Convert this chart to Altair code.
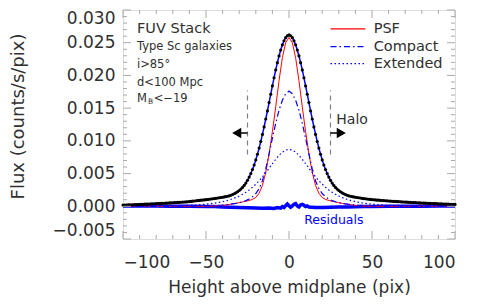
import altair as alt
import pandas as pd

SCALE = 1e-4  # values below are in units of 1e-4 counts/s/pix

# ---- stacked data profile (black dots), one value per pixel ----
x_total = list(range(-100, 101))
flux_total_left = [  # x = -100 .. -1
    1.8, 1.9, 2.0, 2.1, 2.2, 2.3, 2.4, 2.5, 2.6, 2.7,
    2.8, 3.0, 3.1, 3.2, 3.3, 3.4, 3.5, 3.7, 3.8, 3.9,
    4.0, 4.2, 4.3, 4.4, 4.6, 4.7, 4.8, 5.0, 5.1, 5.3,
    5.4, 5.6, 5.7, 5.9, 6.0, 6.2, 6.4, 6.5, 6.7, 6.9,
    7.2, 7.5, 7.8, 8.1, 8.4, 8.7, 9.0, 9.3, 9.5, 9.8, 10.1, 10.4, 10.7, 11.1, 11.5,
    11.8, 12.2, 12.6, 13.0, 13.4, 13.8, 14.3, 14.8, 15.4, 16.0,
    16.9, 18.0, 19.2, 20.6, 22.2, 24.1,
    26.3, 28.9, 31.9, 35.5, 39.7,
    44.6, 50.0, 56.2, 63.1, 70.9,
    79.5, 88.9, 99.0, 109.8, 121.3,
    133.4, 145.8, 158.5, 171.3, 184.0,
    196.4, 208.4, 219.5, 229.8, 238.9,
    246.7, 253.0, 257.7, 260.7,
]
flux_total_right = [  # x = 0 .. 100
    262.0, 260.7, 257.7, 253.0, 246.7, 238.9, 229.8, 219.5, 208.4, 196.4,
    184.0, 171.3, 158.5, 145.8, 133.4, 121.3, 109.8, 99.0, 88.9, 79.5,
    70.9, 63.1, 56.2, 50.0, 44.6, 39.7, 35.5, 31.9, 28.9, 26.3,
    24.1, 22.2, 20.6, 19.2, 18.0, 16.9,
    16.0, 15.4, 14.8, 14.3, 13.8, 13.4, 13.0, 12.6, 12.2, 11.8,
    11.5, 11.1, 10.8, 10.5, 10.2, 10.0, 9.7, 9.5, 9.3, 9.1,
    8.9, 8.7, 8.5, 8.3, 8.1, 7.9, 7.7, 7.5, 7.4, 7.2,
    7.0, 6.9, 6.7, 6.6, 6.4, 6.3, 6.1, 6.0, 5.8, 5.7,
    5.6, 5.4, 5.3, 5.2, 5.0, 4.9, 4.8, 4.7, 4.5, 4.4,
    4.3, 4.2, 4.1, 4.0, 3.8, 3.7, 3.6, 3.5, 3.4, 3.3,
    3.2, 3.1, 3.0, 2.9, 2.8,
]
flux_total = flux_total_left + flux_total_right
assert len(flux_total) == len(x_total)

# ---- model components ----
x_model = [-100, -95, -90, -85, -80, -75, -70, -65, -60, -55,
           -50, -48, -46, -44, -42, -40, -38, -36, -34, -32, -30, -28, -26,
           -24, -22, -20, -18, -16, -14, -12, -10, -8, -6, -4, -2,
           0,
           2, 4, 6, 8, 10, 12, 14, 16, 18, 20, 22, 24, 26, 28, 30, 32, 34,
           36, 38, 40, 42, 44, 46, 48, 50,
           55, 60, 65, 70, 75, 80, 85, 90, 95, 100]
psf = [0, 0, 0, 0, 0, 0, 0, 0, 0, 0,
       0.0, 0.2, 0.4, 0.7, 1.1, 1.5, 2.1, 2.8, 3.6, 4.5, 5.5, 6.6, 7.7,
       8.9, 10.5, 13.5, 20, 32, 52, 80, 114, 152, 192, 227, 250,
       258,
       250, 227, 192, 152, 114, 80, 52, 32, 20, 13.5, 10.5, 8.9, 7.7, 6.6, 5.5, 4.5, 3.6,
       2.8, 2.1, 1.5, 1.1, 0.7, 0.4, 0.2, 0.0,
       0, 0, 0, 0, 0, 0, 0, 0, 0, 0]
compact = [0, 0, 0, 0, 0, 0, 0.0, 0.1, 0.2, 0.4,
           0.7, 0.9, 1.1, 1.3, 1.6, 2.0, 2.4, 3.0, 3.7, 4.5, 5.6, 6.9, 8.7,
           11.1, 14.5, 19.5, 27, 39, 57, 80, 104, 127, 147, 162, 172,
           176,
           172, 162, 147, 127, 104, 80, 57, 39, 27, 19.5, 14.5, 11.1, 8.7, 6.9, 5.6, 4.5, 3.7,
           3.0, 2.4, 2.0, 1.6, 1.3, 1.1, 0.9, 0.7,
           0.4, 0.2, 0.1, 0, 0, 0, 0, 0, 0, 0]
extended = [0.1, 0.1, 0.2, 0.2, 0.3, 0.4, 0.6, 1.0, 1.4, 2.1,
            3.2, 3.7, 4.4, 5.2, 6.0, 7.1, 8.3, 9.7, 11.4, 13.4, 15.7, 18.4, 21.4,
            25.0, 29.1, 33.8, 39.0, 44.9, 51.3, 58.1, 65.1, 71.8, 77.9, 82.7, 85.9,
            87.0,
            85.9, 82.7, 77.9, 71.8, 65.1, 58.1, 51.3, 44.9, 39.0, 33.8, 29.1, 25.0, 21.4,
            18.4, 15.7, 13.4, 11.4, 9.7, 8.3, 7.1, 6.0, 5.2, 4.4, 3.7, 3.2,
            2.1, 1.4, 1.0, 0.6, 0.4, 0.3, 0.2, 0.2, 0.1, 0.1]
assert len(psf) == len(compact) == len(extended) == len(x_model)

# ---- residuals ----
x_resid = [-100, -90, -80, -70, -60, -50, -45, -40, -35, -30, -25, -20, -16, -12,
           -9, -7, -5, -4, -3, -2, -1, 0, 1, 2, 3, 4, 5, 6, 7, 8, 9, 10, 11, 12,
           14, 16, 20, 25, 30, 35, 40, 45, 50, 60, 70, 80, 90, 100]
resid = [0.5, 0.5, 0.3, 0.2, 0.0, -0.3, -0.5, -1.0, -1.5, -2.0, -2.3, -2.8, -3.0, -2.5,
         -3.2, -1.8, -2.8, -0.5, -2.0, 1.0, 3.5, 1.0, -1.5, 0.5, 3.0, 4.0, 0.5, -1.0, 2.0, 3.0,
         1.5, -0.5, 0.5, -1.0,
         -1.5, -2.0, -1.8, -1.5, -1.2, -1.0, -0.8, -0.5, -0.3, 0.0, 0.0, 0.2, 0.3, 0.3]
assert len(resid) == len(x_resid)

# ---- axis ticks ----
x_major = [-100, -50, 0, 50, 100]
x_minor = [-90, -80, -70, -60, -40, -30, -20, -10, 10, 20, 30, 40, 60, 70, 80, 90]
y_major = [-0.005, 0.000, 0.005, 0.010, 0.015, 0.020, 0.025, 0.030]
y_minor = [-0.004, -0.003, -0.002, -0.001, 0.001, 0.002, 0.003, 0.004,
           0.006, 0.007, 0.008, 0.009, 0.011, 0.012, 0.013, 0.014,
           0.016, 0.017, 0.018, 0.019, 0.021, 0.022, 0.023, 0.024,
           0.026, 0.027, 0.028, 0.029]

df_total = pd.DataFrame({"x": x_total, "y": [v * SCALE for v in flux_total]})
df_model = pd.DataFrame({
    "x": x_model,
    "psf": [v * SCALE for v in psf],
    "compact": [v * SCALE for v in compact],
    "extended": [v * SCALE for v in extended],
})
df_resid = pd.DataFrame({"x": x_resid, "y": [v * SCALE for v in resid]})

FONT = "DejaVu Sans"
TXT = "#303030"
GRAY = "#aaaaaa"
BLUE = "#0000ff"

xs = alt.Scale(domain=[-100, 100], nice=False, zero=False)
ys = alt.Scale(domain=[-0.005, 0.030], nice=False, zero=False)

x_axis = alt.Axis(values=x_major, title="Height above midplane (pix)", ticks=False,
                  domain=False, grid=False, labelFont=FONT, labelFontSize=17,
                  labelColor=TXT, labelPadding=15, titleFont=FONT, titleFontSize=17,
                  titleFontWeight="normal", titleColor=TXT, titleY=48,
                  titleBaseline="middle")
y_axis = alt.Axis(values=y_major, format=".3f", title="Flux (counts/s/pix)", ticks=False,
                  domain=False, grid=False, labelFont=FONT, labelFontSize=17,
                  labelColor=TXT, labelPadding=8, labelFlush=True, titleFont=FONT,
                  titleFontSize=18, titleFontWeight="normal", titleColor=TXT,
                  titleX=-105, titleY=106, titleAlign="center", titleBaseline="middle",
                  titleAngle=270)


def X(f):
    return alt.X(f, type="quantitative", scale=xs, axis=x_axis)


def Y(f):
    return alt.Y(f, type="quantitative", scale=ys, axis=y_axis)


def XD(v):
    return alt.XDatum(v, type="quantitative", scale=xs, axis=x_axis)


def YD(v):
    return alt.YDatum(v, type="quantitative", scale=ys, axis=y_axis)


base_m = alt.Chart(df_model)

resid_line = alt.Chart(df_resid).mark_line(color=BLUE, strokeWidth=3.5).encode(
    x=X("x"), y=Y("y"))
psf_line = base_m.mark_line(color="#ff0000", strokeWidth=1).encode(x=X("x"), y=Y("psf"))
comp_line = base_m.mark_line(color=BLUE, strokeWidth=1.2, strokeDash=[6, 3, 1.5, 3]).encode(
    x=X("x"), y=Y("compact"))
ext_line = base_m.mark_line(color=BLUE, strokeWidth=1.2, strokeDash=[1.5, 2.5]).encode(
    x=X("x"), y=Y("extended"))
tot_line = alt.Chart(df_total).mark_line(color=BLUE, strokeWidth=1.5).encode(
    x=X("x"), y=Y("y"))
dots = alt.Chart(df_total).mark_circle(color="black", size=10, opacity=1).encode(
    x=X("x"), y=Y("y"))


# ---- inward ticks on all four sides ----
def xticks(vals, yval, size, off):
    return alt.Chart(pd.DataFrame({"t": vals})).mark_tick(
        orient="vertical", size=size, thickness=1, color=GRAY, yOffset=off, opacity=1
    ).encode(x=X("t"), y=YD(yval))


def yticks(vals, xval, size, off):
    return alt.Chart(pd.DataFrame({"t": vals})).mark_tick(
        orient="horizontal", size=size, thickness=1, color=GRAY, xOffset=off, opacity=1
    ).encode(y=Y("t"), x=XD(xval))


ticks = [
    xticks(x_major, -0.005, 8, -4), xticks(x_minor, -0.005, 4, -2),
    xticks(x_major, 0.030, 8, 4), xticks(x_minor, 0.030, 4, 2),
    yticks(y_major, -100, 8, 4), yticks(y_minor, -100, 4, 2),
    yticks(y_major, 100, 8, -4), yticks(y_minor, 100, 4, -2),
]


def text(t, x, y, size, color=TXT, align="left", dy=0):
    return alt.Chart().mark_text(text=t, font=FONT, fontSize=size, color=color,
                                 align=align, baseline="middle", dy=dy).encode(
        x=XD(x), y=YD(y))


def hrule(x1, x2, y, color, width, dash=None):
    kw = dict(color=color, strokeWidth=width)
    if dash:
        kw["strokeDash"] = dash
    return alt.Chart().mark_rule(**kw).encode(x=XD(x1), x2=alt.X2Datum(x2), y=YD(y))


def vrule(x, y1, y2):
    return alt.Chart().mark_rule(color="#808080", strokeWidth=1.2, strokeDash=[5, 4]).encode(
        x=XD(x), y=YD(y1), y2=alt.Y2Datum(y2))


def arrowhead(x, y, shape):
    return alt.Chart().mark_point(shape=shape, filled=True, color="black", size=110,
                                  opacity=1).encode(x=XD(x), y=YD(y))


annot = [
    text("FUV Stack", -91.6, 0.0271, 14.5),
    text("Type Sc galaxies", -91.6, 0.0243, 11.5),
    text("i>85°", -91.6, 0.0216, 11.5),
    text("d<100 Mpc", -91.6, 0.0189, 11.5),
    text("M", -91.6, 0.0164, 11.5),
    text("B", -85.0, 0.0164, 7.5, dy=3),
    text("<−19", -81.5, 0.0164, 11.5),
    # legend
    hrule(25, 46, 0.0271, "#ff0000", 1.2),
    hrule(25, 46, 0.0244, BLUE, 1.3, [6, 3, 1.5, 3]),
    hrule(25, 46, 0.0218, BLUE, 1.3, [1.5, 2.5]),
    text("PSF", 51, 0.0271, 14.5),
    text("Compact", 51, 0.0244, 14.5),
    text("Extended", 51, 0.0218, 14.5),
    # halo markers
    vrule(-25, 0.0079, 0.0177),
    vrule(25, 0.0079, 0.0177),
    hrule(-29, -25, 0.0112, "black", 1.5),
    hrule(25, 29, 0.0112, "black", 1.5),
    arrowhead(-31.5, 0.0112, "triangle-left"),
    arrowhead(31.5, 0.0112, "triangle-right"),
    text("Halo", 28.5, 0.0132, 14),
    text("Residuals", 27, -0.0021, 12.5, color=BLUE, align="center"),
]

chart = alt.layer(
    resid_line, psf_line, comp_line, ext_line, tot_line, dots, *ticks, *annot
).properties(
    width=332, height=229,
    padding={"left": 115, "top": 2, "right": 21, "bottom": 58},
    autosize=alt.AutoSizeParams(type="none"),
).configure_view(stroke=GRAY, strokeWidth=1).configure(background="white")

chart.save("out.html", embed_options={"renderer": "svg", "actions": False})
